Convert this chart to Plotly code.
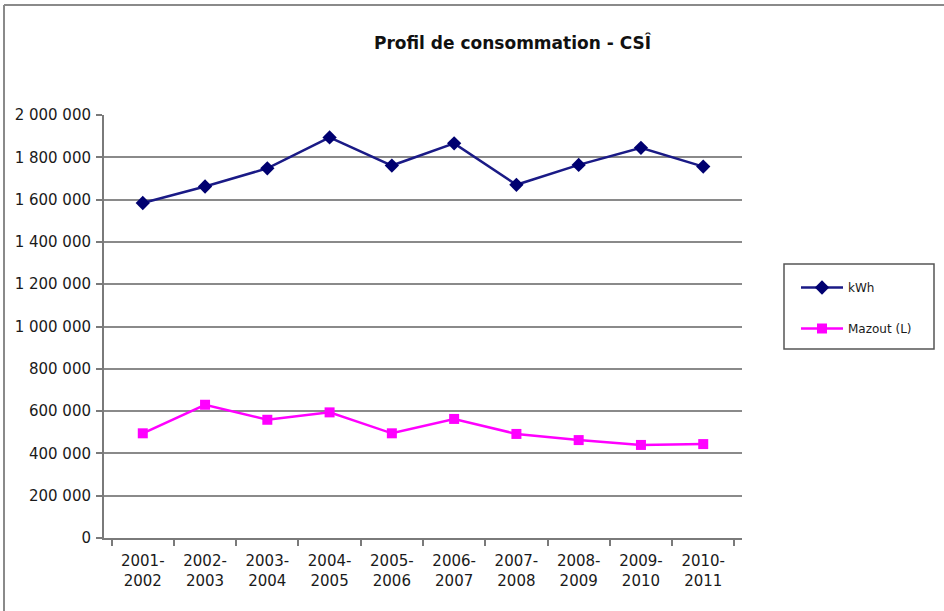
import plotly.graph_objects as go

categories = ["2001-<br>2002", "2002-<br>2003", "2003-<br>2004", "2004-<br>2005", "2005-<br>2006",
              "2006-<br>2007", "2007-<br>2008", "2008-<br>2009", "2009-<br>2010", "2010-<br>2011"]
kwh = [1584000, 1662000, 1748000, 1894000, 1761000, 1866000, 1670000, 1764000, 1845000, 1756000]
mazout = [495000, 630000, 559000, 594000, 495000, 563000, 492000, 463000, 440000, 444000]
y_ticks = [0, 200000, 400000, 600000, 800000, 1000000, 1200000, 1400000, 1600000, 1800000, 2000000]

FONT = "DejaVu Sans"

fig = go.Figure()
fig.add_trace(go.Scatter(
    x=categories, y=kwh, name="kWh", mode="lines+markers", legendgroup="a",
    line=dict(color="#1a1a86", width=2.5),
    marker=dict(symbol="diamond", size=11, color="#000070"),
))
fig.add_trace(go.Scatter(
    x=categories, y=mazout, name="Mazout (L)", mode="lines+markers", legendgroup="b",
    line=dict(color="#ff00ff", width=2.5),
    marker=dict(symbol="square", size=10, color="#ff00ff"),
))

W, H = 944, 611
L, R, T, B = 104, 742, 115, 538
pw, ph = R - L, B - T

def px(x):
    return (x - L) / pw

def py(y):
    return (B - y) / ph

fig.update_layout(
    width=W, height=H,
    margin=dict(l=L, r=W - R, t=T, b=H - B, pad=0),
    paper_bgcolor="white", plot_bgcolor="white",
    separators=", ",
    font=dict(family=FONT, size=15, color="#1a1a1a"),
    showlegend=True,
    legend=dict(
        x=px(796), y=py(273), xanchor="left", yanchor="top",
        borderwidth=0, bgcolor="rgba(0,0,0,0)",
        font=dict(family=FONT, size=12, color="#1a1a1a"),
        tracegroupgap=22, traceorder="grouped",
        itemwidth=42,
    ),
    xaxis=dict(
        type="category", showgrid=False, showline=True, linecolor="#7a7a7a", linewidth=2,
        ticks="outside", tickson="boundaries", ticklen=6, tickcolor="#7a7a7a", tickwidth=1.5,
        ticklabelstandoff=8,
        tickfont=dict(family=FONT, size=15, color="#1a1a1a"),
        fixedrange=True,
    ),
    yaxis=dict(
        range=[0, 2000000], tickvals=y_ticks, tickformat=",d",
        showgrid=True, gridcolor="#8a8a8a", gridwidth=2,
        showline=True, linecolor="#7a7a7a", linewidth=2,
        ticks="outside", ticklen=6, tickcolor="#7a7a7a", tickwidth=1.5,
        ticklabelstandoff=2,
        tickfont=dict(family=FONT, size=15, color="#1a1a1a"),
        zeroline=False, fixedrange=True,
    ),
    annotations=[dict(
        text="<b>Profil de consommation - CSÎ</b>", xref="paper", yref="paper",
        x=px(513), y=py(43), xanchor="center", yanchor="middle", showarrow=False,
        font=dict(family=FONT, size=17, color="#111111"),
    )],
    shapes=[
        dict(type="line", xref="paper", yref="paper", x0=px(4), x1=px(W), y0=py(5), y1=py(5),
             line=dict(color="#8a8a8a", width=2)),
        dict(type="line", xref="paper", yref="paper", x0=px(4), x1=px(4), y0=py(5), y1=py(H),
             line=dict(color="#8a8a8a", width=2)),
        dict(type="rect", xref="paper", yref="paper", x0=px(784), x1=px(934), y0=py(264), y1=py(349),
             line=dict(color="#555555", width=1.5), fillcolor="rgba(0,0,0,0)"),
    ],
)

fig.write_html("out.html", config={"displayModeBar": False},
               post_script="document.body.style.margin='0';")
